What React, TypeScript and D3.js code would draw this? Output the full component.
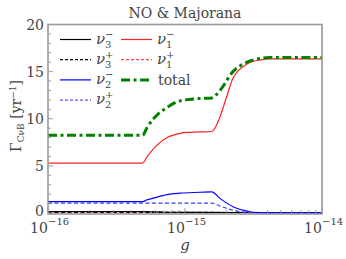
import React from "react";
import * as d3 from "d3";

const W = 346, H = 259;
const M = { left: 48, right: 322, top: 24.5, bottom: 213 };

const nu1mG = [1e-16, 4.9e-16, 5.3e-16, 5.8e-16, 6.25e-16, 7.4e-16, 9.2e-16, 1.03e-15, 1.29e-15, 1.57e-15, 1.8e-15, 2.03e-15, 2.24e-15, 2.84e-15, 3.52e-15, 4.17e-15, 1e-14];
const nu1mV = [5.3, 5.3, 6.0, 6.7, 7.2, 8.0, 8.45, 8.55, 8.6, 8.65, 10.2, 12.5, 14.3, 15.8, 16.25, 16.35, 16.35];

const totalG = [1e-16, 4.9e-16, 5.3e-16, 6.25e-16, 7.4e-16, 9.2e-16, 1.29e-15, 1.57e-15, 1.8e-15, 2.24e-15, 2.84e-15, 3.52e-15, 4.17e-15, 1e-14];
const totalV = [8.25, 8.25, 9.1, 10.4, 11.2, 11.9, 12.15, 12.2, 13.0, 15.0, 16.0, 16.4, 16.5, 16.5];

const nu2mG = [1e-16, 4.9e-16, 5.3e-16, 5.8e-16, 7.4e-16, 9.2e-16, 1.29e-15, 1.57e-15, 1.8e-15, 2.24e-15, 2.84e-15, 3.13e-15, 4e-15, 1e-14];
const nu2mV = [1.2, 1.2, 1.4, 1.55, 1.95, 2.1, 2.2, 2.25, 1.55, 0.67, 0.2, 0.06, 0.02, 0.02];

const nu2pG = [1e-16, 4.9e-16, 1.0e-15, 1.57e-15, 1.8e-15, 2.24e-15, 2.84e-15, 3.5e-15, 1e-14];
const nu2pV = [1.05, 1.05, 1.05, 1.05, 0.74, 0.3, 0.06, 0.03, 0.03];

const nu3mG = [1e-16, 4.9e-16, 7e-16, 1e-15, 1e-14];
const nu3mV = [0.15, 0.15, 0.08, 0.06, 0.05];

const nu3pG = [1e-16, 4.9e-16, 1e-15, 1e-14];
const nu3pV = [0.1, 0.1, 0.06, 0.05];

const nu1pG = [1e-16, 1e-14];
const nu1pV = [0.05, 0.05];

const yTicks = [0, 5, 10, 15, 20];
const xTickExps = [-16, -15, -14];

const x = d3.scaleLog().domain([1e-16, 1e-14]).range([M.left, M.right]);
const y = d3.scaleLinear().domain([0, 20]).range([M.bottom, M.top]);

const line = d3
  .line<[number, number]>()
  .x((d) => x(d[0]))
  .y((d) => y(d[1]))
  .curve(d3.curveMonotoneX);

const zip = (g: number[], v: number[]) => g.map((gi, i) => [gi, v[i]] as [number, number]);

const series = [
  { g: nu1pG, v: nu1pV, color: "#ff2020", width: 1.2, dash: "4,2.5" },
  { g: nu3pG, v: nu3pV, color: "#000", width: 1.2, dash: "4,2.5" },
  { g: nu3mG, v: nu3mV, color: "#000", width: 1.2, dash: "" },
  { g: nu2pG, v: nu2pV, color: "#3a3aff", width: 1.2, dash: "4,2.5" },
  { g: nu2mG, v: nu2mV, color: "#0000ff", width: 1.2, dash: "" },
  { g: nu1mG, v: nu1mV, color: "#ff2020", width: 1.2, dash: "" },
  { g: totalG, v: totalV, color: "#008000", width: 3, dash: "9,3.5,3,3.5" },
];

const FONT = "'DejaVu Serif', 'Liberation Serif', serif";
const TXT = "#444";

function Nu({ xx, yy, sub, sup }: { xx: number; yy: number; sub: string; sup: string }) {
  return (
    <g fontFamily={FONT} fill={TXT}>
      <text x={xx} y={yy} fontSize={15} fontStyle="italic">ν</text>
      <text x={xx + 9} y={yy - 6} fontSize={10}>{sup}</text>
      <text x={xx + 9} y={yy + 4} fontSize={10}>{sub}</text>
    </g>
  );
}

export default function App() {
  const minorX: number[] = [];
  for (let e = -16; e < -14; e++) for (let k = 2; k <= 9; k++) minorX.push(k * Math.pow(10, e));
  const minorY = d3.range(0, 21, 1).filter((v) => v % 5 !== 0);

  const legend1 = [
    { sub: "3", sup: "−", color: "#000", dash: "" },
    { sub: "3", sup: "+", color: "#000", dash: "3,2" },
    { sub: "2", sup: "−", color: "#0000ff", dash: "" },
    { sub: "2", sup: "+", color: "#5555ff", dash: "3,2" },
  ];
  const legend2 = [
    { sub: "1", sup: "−", color: "#ff2020", dash: "" },
    { sub: "1", sup: "+", color: "#ff4040", dash: "3,2" },
  ];

  return (
    <svg width={W} height={H} style={{ position: "absolute", left: 0, top: 0 }}>
      <rect width={W} height={H} fill="#fff" />
      <defs>
        <clipPath id="clip">
          <rect x={M.left} y={M.top} width={M.right - M.left} height={M.bottom - M.top + 1} />
        </clipPath>
      </defs>
      <g clipPath="url(#clip)">
        {series.map((s, i) => (
          <path
            key={i}
            d={line(zip(s.g, s.v)) || ""}
            fill="none"
            stroke={s.color}
            strokeWidth={s.width}
            strokeDasharray={s.dash || undefined}
          />
        ))}
      </g>
      {/* ticks */}
      <g stroke="#888" strokeWidth={0.8}>
        {yTicks.map((t) => (
          <line key={"ym" + t} x1={M.left} x2={M.left + 5} y1={y(t)} y2={y(t)} />
        ))}
        {minorY.map((t) => (
          <line key={"yn" + t} x1={M.left} x2={M.left + 3} y1={y(t)} y2={y(t)} />
        ))}
        {xTickExps.map((e) => (
          <line key={"xm" + e} x1={x(Math.pow(10, e))} x2={x(Math.pow(10, e))} y1={M.bottom} y2={M.bottom - 5} />
        ))}
        {minorX.map((t, i) => (
          <line key={"xn" + i} x1={x(t)} x2={x(t)} y1={M.bottom} y2={M.bottom - 3} />
        ))}
      </g>
      <rect
        x={M.left}
        y={M.top}
        width={M.right - M.left}
        height={M.bottom - M.top + 1}
        fill="none"
        stroke="#999"
        strokeWidth={1.6}
      />
      {/* y tick labels */}
      <g fontFamily={FONT} fill={TXT} fontSize={14} textAnchor="end">
        {yTicks.map((t) => (
          <text key={t} x={M.left - 4} y={y(t) + (t === 0 ? 3 : 5)}>
            {t}
          </text>
        ))}
      </g>
      {/* x tick labels */}
      <g fontFamily={FONT} fill={TXT}>
        {xTickExps.map((e) => (
          <g key={e}>
            <text x={x(Math.pow(10, e)) - 9} y={233} fontSize={14} textAnchor="middle">
              10
            </text>
            <text x={x(Math.pow(10, e)) + 0} y={225} fontSize={10}>
              {"−" + Math.abs(e)}
            </text>
          </g>
        ))}
      </g>
      {/* title */}
      <text x={185} y={18} fontFamily={FONT} fill={TXT} fontSize={14} textAnchor="middle">
        NO &amp; Majorana
      </text>
      {/* x label */}
      <text x={185} y={250} fontFamily={FONT} fill={TXT} fontSize={15} fontStyle="italic" textAnchor="middle">
        g
      </text>
      {/* y label */}
      <text
        transform="translate(21,116) rotate(-90)"
        fontFamily={FONT}
        fill={TXT}
        fontSize={14}
        textAnchor="middle"
      >
        Γ
        <tspan fontSize={9} dy={3}>CνB</tspan>
        <tspan dy={-3}> [yr</tspan>
        <tspan fontSize={9} dy={-5}>−1</tspan>
        <tspan dy={5}>]</tspan>
      </text>
      {/* legend */}
      {legend1.map((l, i) => {
        const yy = 39.5 + i * 20.2;
        return (
          <g key={"l1" + i}>
            <line x1={60} x2={91} y1={yy} y2={yy} stroke={l.color} strokeWidth={1.2} strokeDasharray={l.dash || undefined} />
            <Nu xx={96} yy={yy + 4} sub={l.sub} sup={l.sup} />
          </g>
        );
      })}
      {legend2.map((l, i) => {
        const yy = 39.5 + i * 20.2;
        return (
          <g key={"l2" + i}>
            <line x1={121} x2={152} y1={yy} y2={yy} stroke={l.color} strokeWidth={1.2} strokeDasharray={l.dash || undefined} />
            <Nu xx={157} yy={yy + 4} sub={l.sub} sup={l.sup} />
          </g>
        );
      })}
      <line x1={121} x2={152} y1={79.9} y2={79.9} stroke="#008000" strokeWidth={3} strokeDasharray="9,3.5,3,3.5" />
      <text x={158} y={84.5} fontFamily={FONT} fill={TXT} fontSize={14}>
        total
      </text>
    </svg>
  );
}
